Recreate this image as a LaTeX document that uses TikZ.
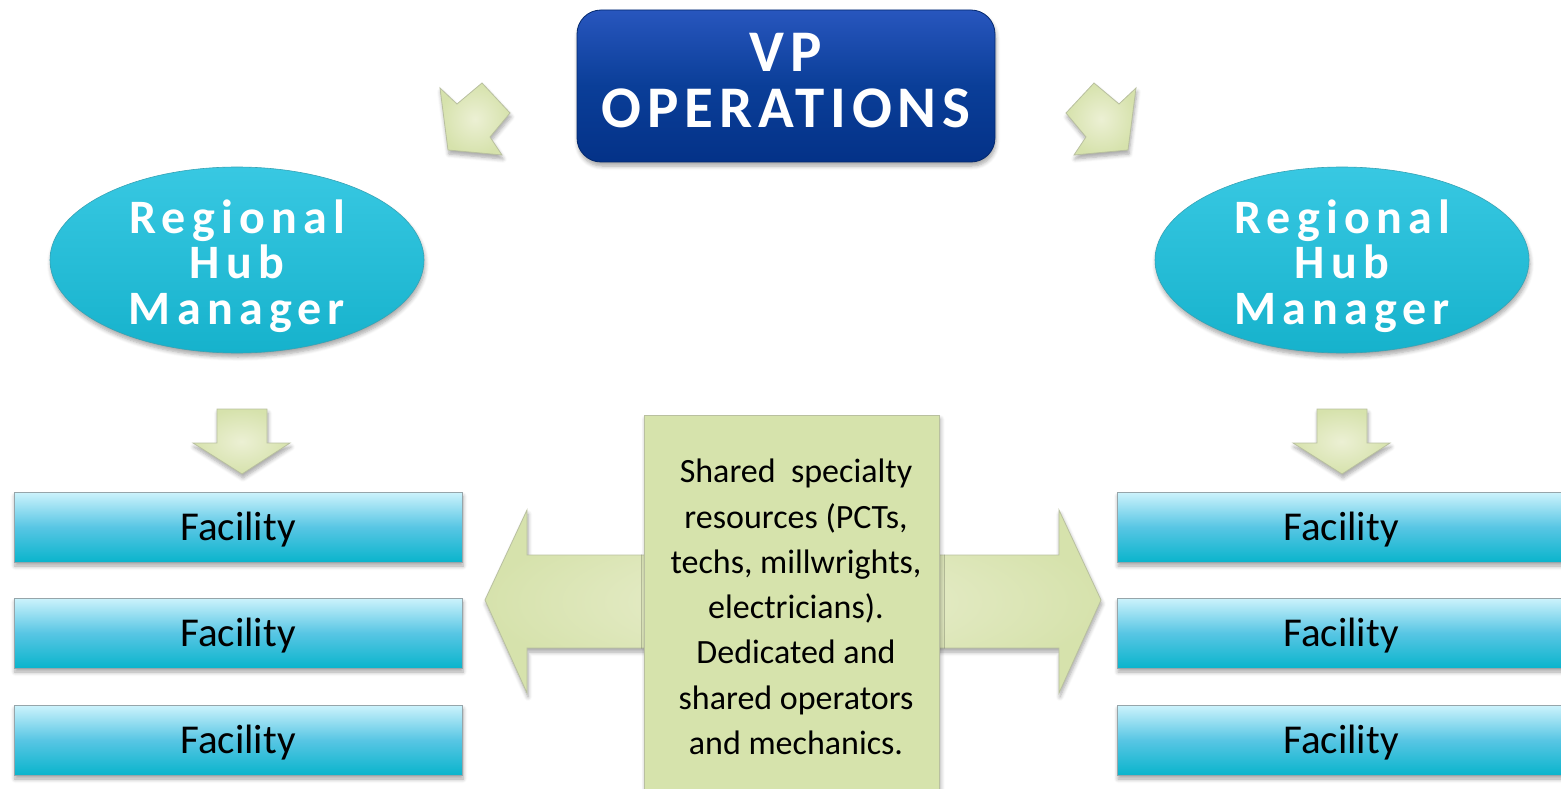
\documentclass[tikz,border=0pt]{standalone}
\usepackage{fontspec}
\setmainfont{Carlito}
\usetikzlibrary{shapes.geometric,shadows.blur}

\definecolor{vpTop}{RGB}{40,86,190}
\definecolor{vpMid}{RGB}{10,62,152}
\definecolor{vpBot}{RGB}{4,50,136}
\definecolor{hubTop}{RGB}{56,200,226}
\definecolor{hubBot}{RGB}{22,178,204}
\definecolor{facTop}{RGB}{205,243,252}
\definecolor{facMid}{RGB}{88,198,228}
\definecolor{facBot}{RGB}{10,180,204}
\definecolor{facEdge}{RGB}{150,165,170}
\definecolor{paleIn}{RGB}{236,240,212}
\definecolor{paleOut}{RGB}{214,226,172}
\definecolor{paleEdge}{RGB}{185,192,160}
\definecolor{boxGreen}{RGB}{214,227,172}

\tikzset{
  softshadow/.style={blur shadow={shadow blur steps=6, shadow xshift=1pt,
      shadow yshift=-4pt, shadow blur radius=4pt, shadow opacity=35}},
  vpbox/.style={rectangle, rounded corners=24pt, minimum width=418pt,
      minimum height=152pt, inner sep=0pt, draw=vpBot!80!black, line width=0.8pt,
      top color=vpTop, bottom color=vpBot, middle color=vpMid, softshadow},
  vptext/.style={text=white, align=center, inner sep=0pt,
      font=\fontsize{59}{56}\selectfont\bfseries\addfontfeature{LetterSpace=10}},
  hubnode/.style={ellipse, minimum width=374pt, minimum height=186pt, inner sep=0pt,
      draw=hubBot!70!gray, line width=0.6pt, top color=hubTop, bottom color=hubBot,
      softshadow},
  hubtext/.style={text=white, align=center, inner sep=0pt,
      font=\fontsize{48}{45.5}\selectfont\bfseries\addfontfeature{LetterSpace=13}},
  facility/.style={rectangle, minimum width=448pt, minimum height=70pt, inner sep=0pt,
      draw=facEdge, line width=0.8pt, top color=facTop, bottom color=facBot,
      middle color=facMid, softshadow, text=black, text height=30pt, text depth=4pt,
      font=\fontsize{41}{41}\selectfont},
  sharedbox/.style={rectangle, minimum width=295pt, minimum height=400pt, inner sep=0pt,
      draw=paleEdge, line width=0.8pt, fill=boxGreen, softshadow},
  sharedtext/.style={align=center, inner sep=0pt, font=\fontsize{34}{45.3}\selectfont},
  palearrow/.style={draw=paleEdge, line width=0.8pt, line join=miter,
      inner color=paleIn, outer color=paleOut, softshadow},
}

\begin{document}
\begin{tikzpicture}[x=1pt,y=-1pt]
\useasboundingbox (0,0) rectangle (1561,789);

% diagonal block arrows from the VP box down to the hubs
\path[palearrow] (440,88) -- (457,104) -- (482,83) -- (510,113) -- (490,137)
  -- (502,155) -- (448,150) -- cycle;
\path[palearrow] (1136,88) -- (1119,104) -- (1094,83) -- (1066,113) -- (1086,137)
  -- (1074,155) -- (1128,150) -- cycle;

% top box
\node[vpbox] (vp) at (786,86) {};
\node[vptext] (vptitle) at (786,81) {VP\\OPERATIONS};

% regional hubs
\node[hubnode] (hubL) at (237,260) {};
\node[hubtext] (hubLtext) at (237,266) {Regional\\Hub\\Manager};
\node[hubnode] (hubR) at (1342,260) {};
\node[hubtext] (hubRtext) at (1342,266) {Regional\\Hub\\Manager};

% small down arrows under the hubs
\path[palearrow] (217,409) -- (267,409) -- (267,443) -- (290,443) -- (242,474)
  -- (193,443) -- (217,443) -- cycle;
\path[palearrow] (1317,409) -- (1367,409) -- (1367,443) -- (1390,443) -- (1342,474)
  -- (1293,443) -- (1317,443) -- cycle;

% facilities, left column
\node[facility] (facL1) at (238,527) {Facility};
\node[facility] (facL2) at (238,633) {Facility};
\node[facility] (facL3) at (238,740) {Facility};
% facilities, right column
\node[facility] (facR1) at (1341,527) {Facility};
\node[facility] (facR2) at (1341,633) {Facility};
\node[facility] (facR3) at (1341,740) {Facility};

% double-headed arrow behind the shared resources box
\path[palearrow] (485,600) -- (527,510) -- (527,555) -- (1059,555) -- (1059,510)
  -- (1101,600) -- (1059,693) -- (1059,648) -- (527,648) -- (527,693) -- cycle;

% shared resources box
\node[sharedbox] (shared) at (792,615) {};
\node[sharedtext] (sharedlabel) at (796,607)
  {Shared\ \ specialty\\resources (PCTs,\\techs, millwrights,\\electricians).\\Dedicated and\\shared operators\\and mechanics.};
\end{tikzpicture}
\end{document}
